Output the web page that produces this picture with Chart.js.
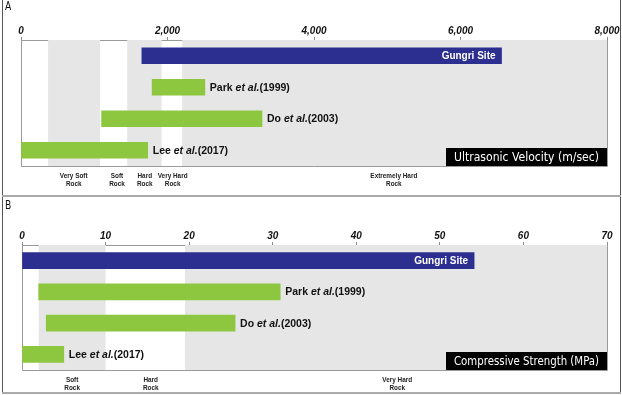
<!DOCTYPE html>
<html>
<head>
<meta charset="utf-8">
<script src="https://cdn.jsdelivr.net/npm/chart.js@4/dist/chart.umd.min.js"></script>
<style>
  body { margin: 0; background: #fff; }
  #wrap { position: relative; width: 622px; height: 395px; overflow: hidden; }
  .panel { position: absolute; left: 0; width: 622px; }
  #frameL { position: absolute; left: 2px; top: 0; width: 1px; height: 394px; background: #555; }
  #frameR { position: absolute; left: 620px; top: 0; width: 1px; height: 394px; background: #555; }
  #sep { position: absolute; left: 2px; top: 195px; width: 619px; height: 2px; background: #aaa; }
  #frameB { position: absolute; left: 2px; top: 392px; width: 619px; height: 2px; background: #aaa; }
  .letra { position: absolute; left: 5px; font: 12px "DejaVu Sans Condensed", sans-serif; color: #111; transform: scaleX(0.85); transform-origin: left top; }
</style>
</head>
<body>
<div id="wrap">
  <canvas id="graficoA" class="panel" width="622" height="197" style="top:0"></canvas>
  <canvas id="graficoB" class="panel" width="622" height="198" style="top:197px"></canvas>
  <div id="frameL"></div><div id="frameR"></div><div id="sep"></div><div id="frameB"></div>
  <div class="letra" style="top:-1px">A</div>
  <div class="letra" style="top:198px">B</div>
</div>
<script>
// categorias (de arriba hacia abajo)
var autores = ["Gungri Site", "Park", "Do", "Lee"];
var anios = ["", "(1999)", "(2003)", "(2017)"];

// A: velocidad ultrasonica (m/sec)
var velocidadInicio = [1650, 1790, 1100, 0];
var velocidadFin = [6560, 2510, 3290, 1730];
var velocidadTicks = [0, 2000, 4000, 6000, 8000];
var velocidadLimites = [370, 1080, 1450, 1920, 2200, 8000];
var velocidadClases = [["Very Soft", "Rock"], ["Soft", "Rock"], ["Hard", "Rock"], ["Very Hard", "Rock"], ["Extremely Hard", "Rock"]];
var velocidadPosClase = [720, 1310, 1690, 2070, 5090];

// B: resistencia a compresion (MPa)
var resistenciaInicio = [0, 2, 2.9, 0];
var resistenciaFin = [54.1, 30.9, 25.5, 5];
var resistenciaTicks = [0, 10, 20, 30, 40, 50, 60, 70];
var resistenciaLimites = [2, 10, 19.5, 70];
var resistenciaClases = [["Soft", "Rock"], ["Hard", "Rock"], ["Very Hard", "Rock"]];
var resistenciaPosClase = [6, 15.4, 44.9];

var AZUL = "#2c2f8f";
var VERDE = "#8dc63f";
var GRIS = "#e6e6e6";
var CONDENSADA = '"DejaVu Sans Condensed", sans-serif';
var SANS = '"Liberation Sans", Arial, sans-serif';

// texto comprimido horizontalmente (la fuente original es estrecha)
function textoEstrecho(ctx, txt, x, y, factor) {
  ctx.fillText(txt, x, y, ctx.measureText(txt).width * factor);
}

function crearGrafico(id, inicio, fin, ticks, limites, clases, posClase, titulo, padding) {
  var datos = inicio.map(function (v, i) { return [v, fin[i]]; });
  var colores = autores.map(function (a, i) { return i == 0 ? AZUL : VERDE; });

  var fondo = {
    id: "fondo",
    beforeDatasetsDraw: function (chart) {
      var ctx = chart.ctx;
      var area = chart.chartArea;
      var x = chart.scales.x;
      ctx.save();
      ctx.fillStyle = GRIS;
      // bandas grises alternadas: la primera clase es gris
      for (var i = 0; i < limites.length - 1; i += 2) {
        var x0 = x.getPixelForValue(limites[i]);
        var x1 = x.getPixelForValue(limites[i + 1]);
        ctx.fillRect(x0, area.top, x1 - x0, area.bottom - area.top);
      }
      ctx.strokeStyle = "#9a9a9a";
      ctx.lineWidth = 1;
      ctx.beginPath();
      ctx.moveTo(area.left + 0.5, area.top);
      ctx.lineTo(area.left + 0.5, area.bottom + 0.5);
      ctx.lineTo(area.right + 0.5, area.bottom + 0.5);
      ctx.lineTo(area.right + 0.5, area.top);
      ctx.stroke();

      // nombres de las clases bajo el eje
      ctx.fillStyle = "#222";
      ctx.textAlign = "center";
      ctx.textBaseline = "top";
      ctx.font = "bold 8px " + SANS;
      clases.forEach(function (c, i) {
        var px = x.getPixelForValue(posClase[i]);
        textoEstrecho(ctx, c[0], px, area.bottom + 6, 0.8);
        textoEstrecho(ctx, c[1], px, area.bottom + 14, 0.8);
      });
      ctx.restore();
    },
    afterDatasetsDraw: function (chart) {
      var ctx = chart.ctx;
      var area = chart.chartArea;
      var meta = chart.getDatasetMeta(0);
      ctx.save();
      ctx.textBaseline = "middle";
      meta.data.forEach(function (bar, i) {
        var y = bar.y;
        var xr = Math.max(bar.x, bar.base);
        if (i == 0) {
          ctx.font = "bold 10px " + SANS;
          ctx.fillStyle = "#fff";
          ctx.textAlign = "right";
          ctx.fillText(autores[i], xr - 6, y + 0.5);
        } else {
          ctx.textAlign = "left";
          ctx.fillStyle = "#111";
          var px = xr + 5;
          ctx.font = "bold 10.5px " + SANS;
          ctx.fillText(autores[i] + " ", px, y + 0.5);
          px += ctx.measureText(autores[i] + " ").width;
          ctx.font = "italic bold 10.5px " + SANS;
          ctx.fillText("et al.", px, y + 0.5);
          px += ctx.measureText("et al.").width;
          ctx.font = "bold 10.5px " + SANS;
          ctx.fillText(anios[i], px, y + 0.5);
        }
      });
      // recuadro negro con el nombre de la variable
      var w = 161, h = 18;
      ctx.fillStyle = "#000";
      ctx.fillRect(area.right - w, area.bottom - h, w, h);
      ctx.fillStyle = "#fff";
      ctx.textAlign = "center";
      ctx.font = "13px " + CONDENSADA;
      ctx.fillText(titulo, area.right - w / 2, area.bottom - h / 2 + 1, w - 16);
      ctx.restore();
    },
  };

  return new Chart(document.getElementById(id), {
    type: "bar",
    data: {
      labels: autores,
      datasets: [
        {
          data: datos,
          backgroundColor: colores,
          barThickness: 16,
          borderWidth: 0,
        },
      ],
    },
    options: {
      indexAxis: "y",
      responsive: false,
      animation: false,
      layout: { padding: padding },
      plugins: { legend: { display: false }, tooltip: { enabled: false } },
      scales: {
        x: {
          position: "top",
          min: ticks[0],
          max: ticks[ticks.length - 1],
          afterBuildTicks: function (scale) {
            scale.ticks = ticks.map(function (v) { return { value: v }; });
          },
          grid: { drawOnChartArea: false, tickLength: 3, color: "#8a8a8a" },
          border: { color: "#9a9a9a" },
          ticks: {
            padding: 0,
            color: "#111",
            font: { family: SANS, size: 10, style: "italic", weight: "bold" },
            callback: function (value) {
              return value.toLocaleString("en-US");
            },
          },
        },
        y: { display: false },
      },
    },
    plugins: [fondo],
  });
}

crearGrafico("graficoA", velocidadInicio, velocidadFin, velocidadTicks, velocidadLimites, velocidadClases, velocidadPosClase,
  "Ultrasonic Velocity (m/sec)", { left: 21, right: 15, top: 25, bottom: 31 });
crearGrafico("graficoB", resistenciaInicio, resistenciaFin, resistenciaTicks, resistenciaLimites, resistenciaClases, resistenciaPosClase,
  "Compressive Strength (MPa)", { left: 22, right: 15, top: 33, bottom: 25 });
</script>
</body>
</html>
